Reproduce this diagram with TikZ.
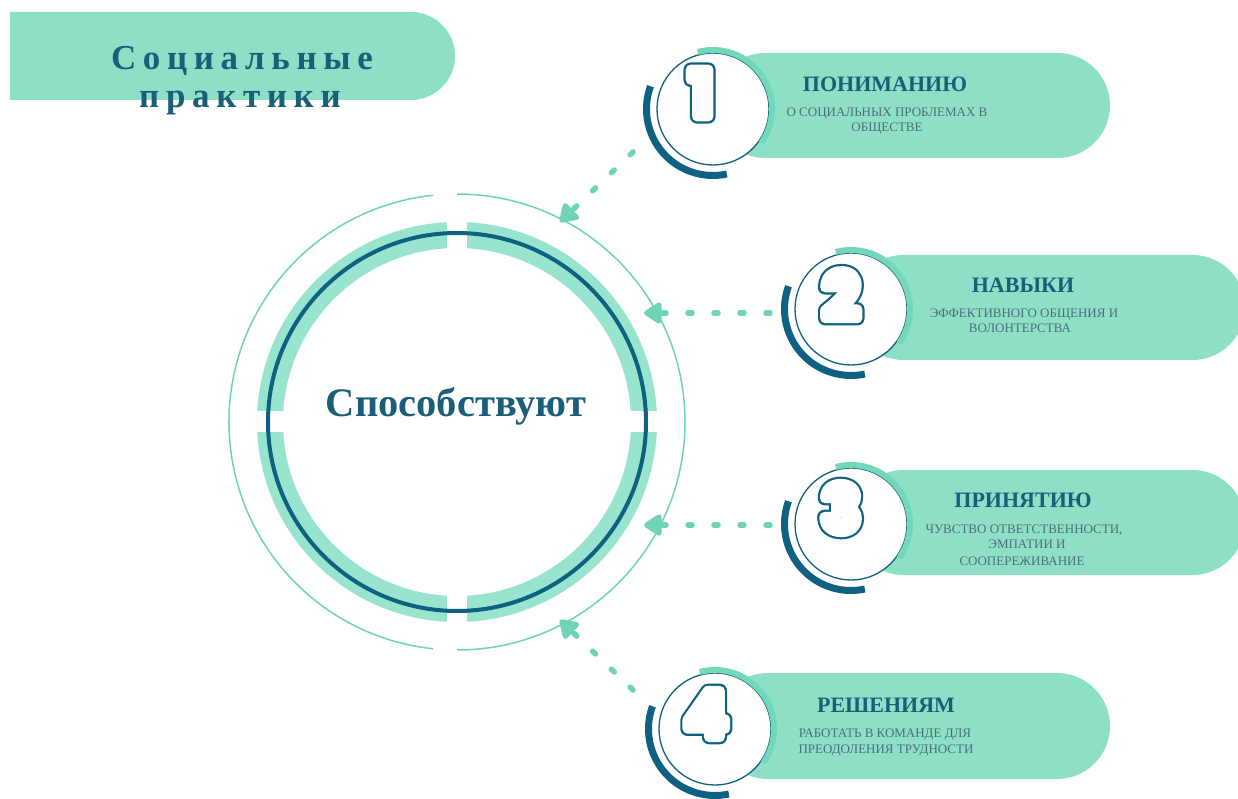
\documentclass[tikz,border=0pt]{standalone}
\usepackage{fontspec}
\setmainfont{Liberation Serif}
\newfontfamily\numfont{Poppins}
\usetikzlibrary{arrows.meta}
\definecolor{pillc}{RGB}{141,224,198}
\definecolor{bandc}{RGB}{152,228,206}
\definecolor{arrowc}{RGB}{110,212,181}
\definecolor{tealarc}{RGB}{114,216,184}
\definecolor{darkc}{RGB}{14,97,128}
\definecolor{titlec}{RGB}{26,94,122}
\definecolor{subc}{RGB}{74,111,124}
\newcommand{\strokedigit}[2]{\special{pdf:literal direct 2 Tr #1 w 1 j}#2\special{pdf:literal direct 0 Tr}}
\tikzset{
  pill/.style={fill=pillc},
  arr/.style={draw=arrowc, line width=5.5pt, line cap=round, dash pattern=on 4pt off 22pt,
     -{Triangle[length=20pt,width=24pt,round]}},
  darkarc/.style={draw=darkc, line width=7pt},
  lightarc/.style={draw=tealarc, line width=6pt},
  itemcirc/.style={circle, fill=white, draw=darkc, line width=1.3pt, minimum size=112pt, inner sep=0pt},
  digitout/.style={inner sep=0pt, text=darkc, font=\numfont\bfseries\fontsize{64}{64}\selectfont},
  digitin/.style={inner sep=0pt, text=white, font=\numfont\bfseries\fontsize{64}{64}\selectfont},
  head/.style={anchor=base, inner sep=0pt, text=titlec, font=\bfseries\fontsize{22}{24}\selectfont},
  sub/.style={anchor=base, inner sep=0pt, text=subc, font=\fontsize{13}{15}\selectfont},
  titletext/.style={anchor=base, inner sep=0pt, text=titlec, font=\bfseries\fontsize{35}{37}\selectfont\addfontfeature{LetterSpace=19}},
}
\begin{document}
\begin{tikzpicture}[x=1pt,y=1pt]
\fill[white] (0,0) rectangle (1238,798);
\useasboundingbox (0,0) rectangle (1238,798);

% title banner
\fill[pillc] (10,698) -- (411,698) arc (-90:90:44) -- (10,786) -- cycle;
\node[titletext] (t1) at (242,728) {Социальные};
\node[titletext] (t2) at (240,690) {практики};

% central circle
\coordinate (C) at (457,376);
\draw[bandc, line width=26pt] (C) circle (187);
\fill[white] (447,546) rectangle (467,580);
\fill[white] (447,172) rectangle (467,206);
\fill[white] (253,365.5) rectangle (287,386.5);
\fill[white] (627,365.5) rectangle (661,386.5);
\draw[darkc, line width=4pt] (C) circle (189);
\draw[arrowc, line width=1.5pt] ([shift={(96:228)}]C) arc (96:264:228);
\draw[arrowc, line width=1.5pt] ([shift={(-90:228)}]C) arc (-90:90:228);
\node[inner sep=0pt, anchor=base, text=titlec, font=\bfseries\fontsize{40.5}{42}\selectfont] (center) at (456,381) {Способствуют};

% pills
\fill[pill, rounded corners=52.5pt] (713,640) rectangle (1110,745);
\fill[pill, rounded corners=52.5pt] (851,438) rectangle (1245,543);
\fill[pill, rounded corners=52.5pt] (851,223) rectangle (1245,328);
\fill[pill, rounded corners=53pt] (715,19) rectangle (1110,125);

% item circles
\foreach \n/\cx/\cy in {1/713/689, 2/851/489, 3/851/274, 4/715/69}{
  \draw[darkarc] ([shift={(160:66.5)}]\cx,\cy) arc (160:282:66.5);
  \node[itemcirc] (c\n) at (\cx,\cy) {};
  \draw[lightarc] ([shift={(105:59)}]\cx,\cy) arc (105:-35:59);
}
\foreach \n/\dx/\dy in {1/701/705, 2/841/503, 3/841/290, 4/706/84}{
  \node[digitout] (do\n) at (\dx,\dy) {\strokedigit{14.4}{\n}};
  \node[digitin] (d\n) at (\dx,\dy) {\strokedigit{10}{\n}};
}

% texts
\node[head] (h1) at (885,706) {ПОНИМАНИЮ};
\node[sub] (s11) at (887,681) {О СОЦИАЛЬНЫХ ПРОБЛЕМАХ В};
\node[sub] (s12) at (887,666) {ОБЩЕСТВЕ};

\node[head] (h2) at (1023,505) {НАВЫКИ};
\node[sub] (s21) at (1024,480) {ЭФФЕКТИВНОГО ОБЩЕНИЯ И};
\node[sub] (s22) at (1020,465) {ВОЛОНТЕРСТВА};

\node[head] (h3) at (1023,290) {ПРИНЯТИЮ};
\node[sub] (s31) at (1024,265) {ЧУВСТВО ОТВЕТСТВЕННОСТИ,};
\node[sub] (s32) at (1027,250) {ЭМПАТИИ И};
\node[sub] (s33) at (1022,233) {СООПЕРЕЖИВАНИЕ};

\node[head] (h4) at (886,86) {РЕШЕНИЯМ};
\node[sub] (s41) at (885,61) {РАБОТАТЬ В КОМАНДЕ ДЛЯ};
\node[sub] (s42) at (886,45) {ПРЕОДОЛЕНИЯ ТРУДНОСТИ};

% arrows
\coordinate (a1s) at (633,646); \coordinate (a1e) at (560,576);
\coordinate (a2s) at (770,485); \coordinate (a2e) at (644,485);
\coordinate (a3s) at (770,273); \coordinate (a3e) at (644,273);
\coordinate (a4s) at (633,108); \coordinate (a4e) at (560,178);
\draw[arr] (a1s) -- (a1e);
\draw[arr] (a2s) -- (a2e);
\draw[arr] (a3s) -- (a3e);
\draw[arr] (a4s) -- (a4e);
\end{tikzpicture}
\end{document}
